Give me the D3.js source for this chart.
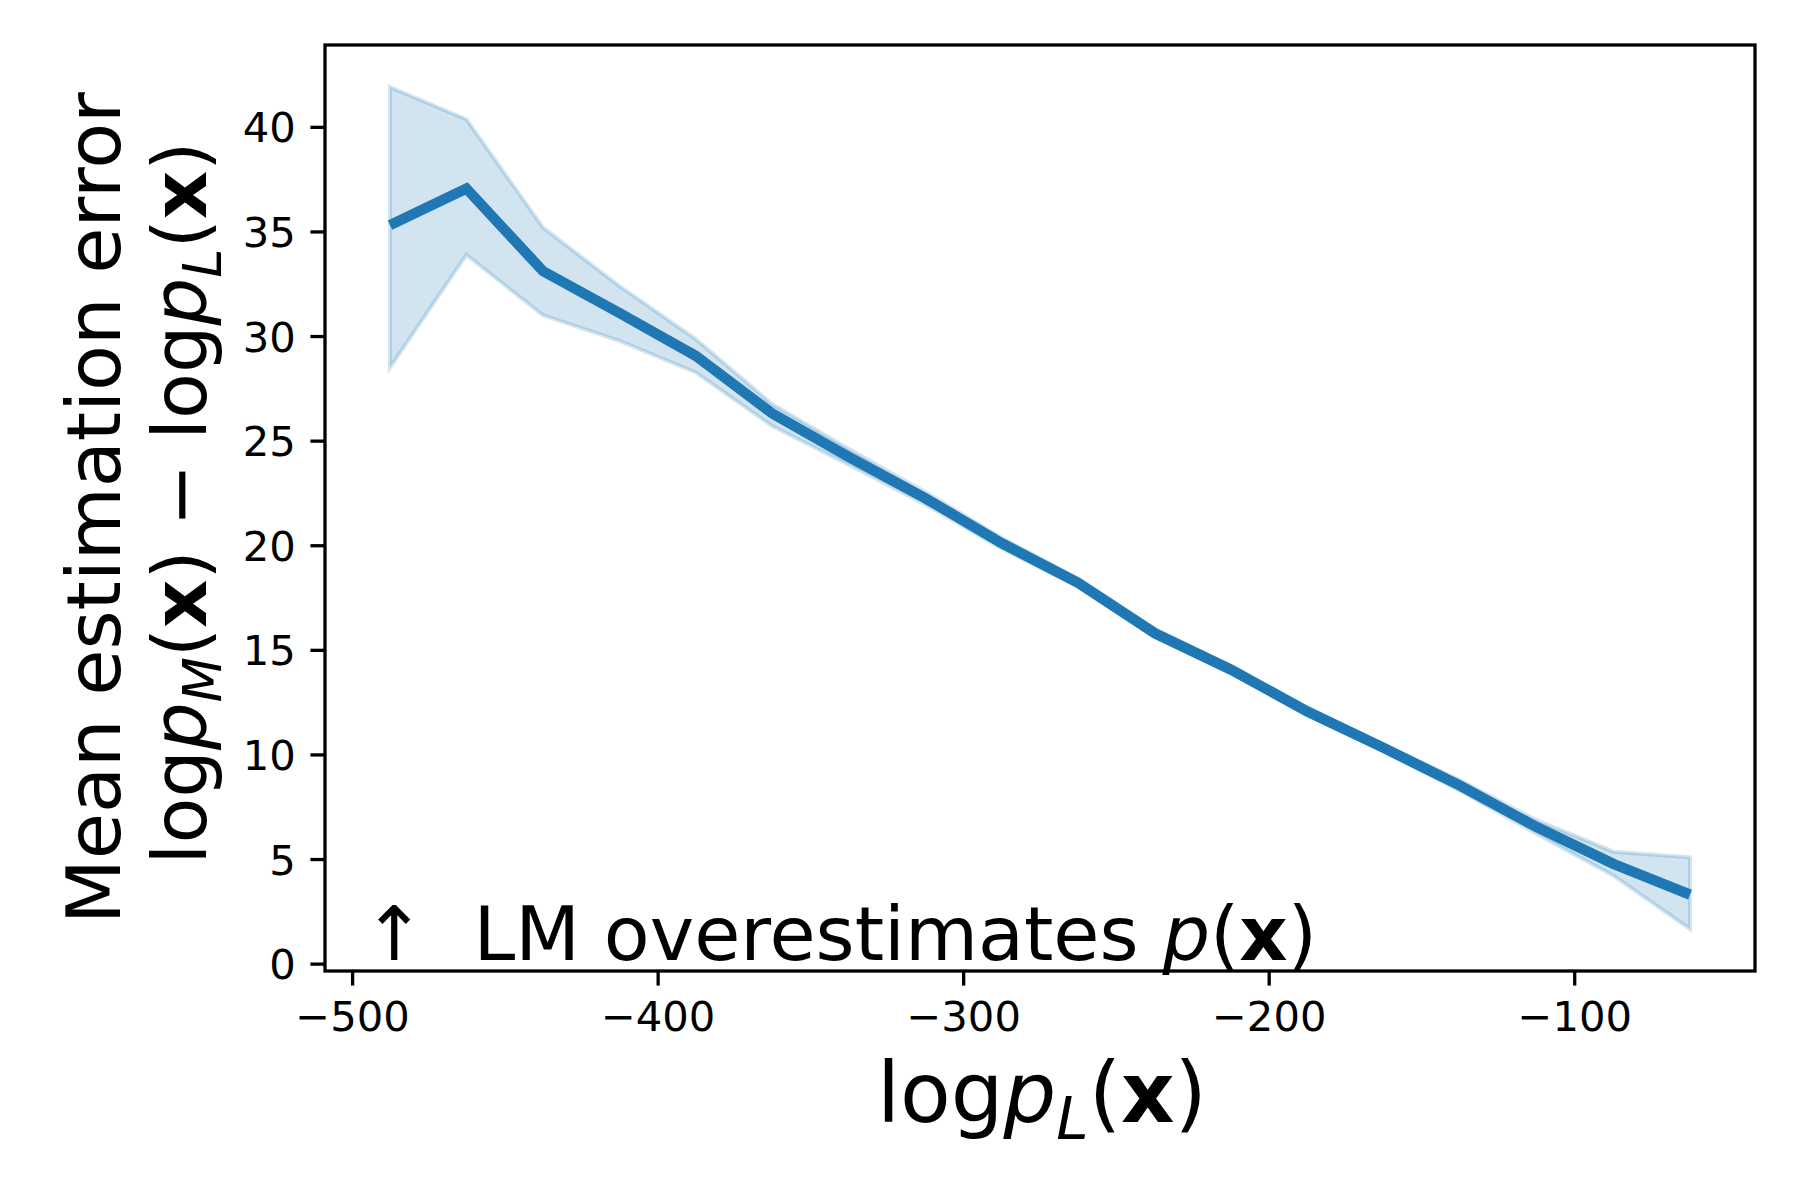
<!DOCTYPE html>
<html><head><meta charset="utf-8">
<script src="https://cdn.jsdelivr.net/npm/d3@7"></script>
<style>body{margin:0;background:#fff} text{font-family:"DejaVu Sans";white-space:pre}</style>
</head><body><svg id="c" width="1800" height="1200"></svg>
<script>
// ---- data ----
const xValues = [-487.6, -462.6, -437.5, -412.5, -387.5, -362.5, -337.4, -312.4, -287.4,
                 -262.3, -237.3, -212.3, -187.3, -162.2, -137.2, -112.2, -87.1, -62.1];
const meanValues  = [35.3, 37.05, 33.1, 31.1, 29.05, 26.3, 24.22, 22.25, 20.1,
                     18.2, 15.8, 14.05, 12.05, 10.3, 8.5, 6.52, 4.76, 3.3];
const upperValues = [41.9, 40.36, 35.18, 32.39, 29.85, 26.74, 24.6, 22.55, 20.35,
                     18.4, 16.0, 14.2, 12.2, 10.45, 8.75, 6.85, 5.35, 5.08];
const lowerValues = [28.5, 33.88, 30.99, 29.77, 28.26, 25.7, 23.85, 21.95, 19.85,
                     18.0, 15.6, 13.9, 11.9, 10.15, 8.25, 6.2, 4.2, 1.66];
const xTicks = [-500, -400, -300, -200, -100];
const yTicks = [0, 5, 10, 15, 20, 25, 30, 35, 40];

const W = 1800, H = 1200;
const m = {left: 325, right: 1755, top: 45, bottom: 971};
const svg = d3.select("#c");
svg.append("rect").attr("width", W).attr("height", H).attr("fill", "#fff");

const rows = xValues.map((x, i) => ({x, m: meanValues[i], hi: upperValues[i], lo: lowerValues[i]}));
function pad(ext) { const r = ext[1] - ext[0]; return [ext[0] - 0.05 * r, ext[1] + 0.05 * r]; }
const x = d3.scaleLinear().domain(pad(d3.extent(xValues))).range([m.left, m.right]);
const y = d3.scaleLinear().domain(pad([d3.min(lowerValues), d3.max(upperValues)])).range([m.bottom, m.top]);

const color = "#1f77b4";
// band
svg.append("path").datum(rows)
  .attr("d", d3.area().x(d => x(d.x)).y0(d => y(d.lo)).y1(d => y(d.hi)))
  .attr("fill", color).attr("fill-opacity", 0.2)
  .attr("stroke", color).attr("stroke-opacity", 0.2).attr("stroke-width", 4)
  .attr("stroke-linejoin", "miter");
// mean line
svg.append("path").datum(rows)
  .attr("d", d3.line().x(d => x(d.x)).y(d => y(d.m)))
  .attr("fill", "none").attr("stroke", color).attr("stroke-width", 10.4)
  .attr("stroke-linejoin", "miter").attr("stroke-linecap", "butt");

const fmt = d => d < 0 ? "\u2212" + Math.abs(d) : String(d);
const tickLen = 14.6, tickPad = 14.6, tickFont = 41.7;

const gx = svg.append("g").attr("transform", `translate(0,${m.bottom})`)
  .call(d3.axisBottom(x).tickValues(xTicks).tickFormat(fmt).tickSize(tickLen).tickPadding(tickPad));
const gy = svg.append("g").attr("transform", `translate(${m.left},0)`)
  .call(d3.axisLeft(y).tickValues(yTicks).tickFormat(fmt).tickSize(tickLen).tickPadding(tickPad));
[gx, gy].forEach(g => {
  g.select(".domain").remove();
  g.selectAll(".tick line").attr("stroke", "#000").attr("stroke-width", 3.3);
  g.selectAll(".tick text").attr("fill", "#000").style("font-size", tickFont + "px")
   .style("font-family", "DejaVu Sans");
});
gx.selectAll(".tick text").attr("dy", "0.74em");
gy.selectAll(".tick text").attr("dy", "0.36em");

// spines
svg.append("rect").attr("x", m.left).attr("y", m.top)
  .attr("width", m.right - m.left).attr("height", m.bottom - m.top)
  .attr("fill", "none").attr("stroke", "#000").attr("stroke-width", 3.3);

// math-ish text helper
function mathText(sel, parts, FS) {
  let shift = 0;
  sel.style("font-size", FS + "px");
  parts.forEach(p => {
    const ts = sel.append("tspan").text(p.t);
    if (p.i) ts.style("font-style", "italic");
    if (p.b) ts.style("font-weight", "bold");
    const target = p.sub ? FS * 0.2 : 0;
    if (p.sub) ts.style("font-size", (FS * 0.7) + "px");
    if (target !== shift) { ts.attr("dy", target - shift); shift = target; }
  });
}
const logpx = s => [{t: "log"}, {t: "p", i: true}, {t: s, i: true, sub: true}, {t: "("}, {t: "x", b: true}, {t: ")"}];

// x label
const xl = svg.append("text").attr("x", (m.left + m.right) / 2 + 2).attr("y", 1122)
  .attr("text-anchor", "middle");
mathText(xl, logpx("L"), 83);

// y labels
const yc = (m.top + m.bottom) / 2;
svg.append("text").attr("transform", `translate(120,${yc}) rotate(-90)`)
  .attr("text-anchor", "middle").style("font-size", "75px").text("Mean estimation error");
const y2 = svg.append("text").attr("transform", `translate(206,${yc - 5}) rotate(-90)`)
  .attr("text-anchor", "middle");
mathText(y2, [...logpx("M"), {t: " \u2212 "}, ...logpx("L")], 75);

// annotation
const an = svg.append("text").attr("x", 363).attr("y", 960);
mathText(an, [{t: "\u2191  LM overestimates "}, {t: "p", i: true}, {t: "("}, {t: "x", b: true}, {t: ")"}], 75);
</script></body></html>
